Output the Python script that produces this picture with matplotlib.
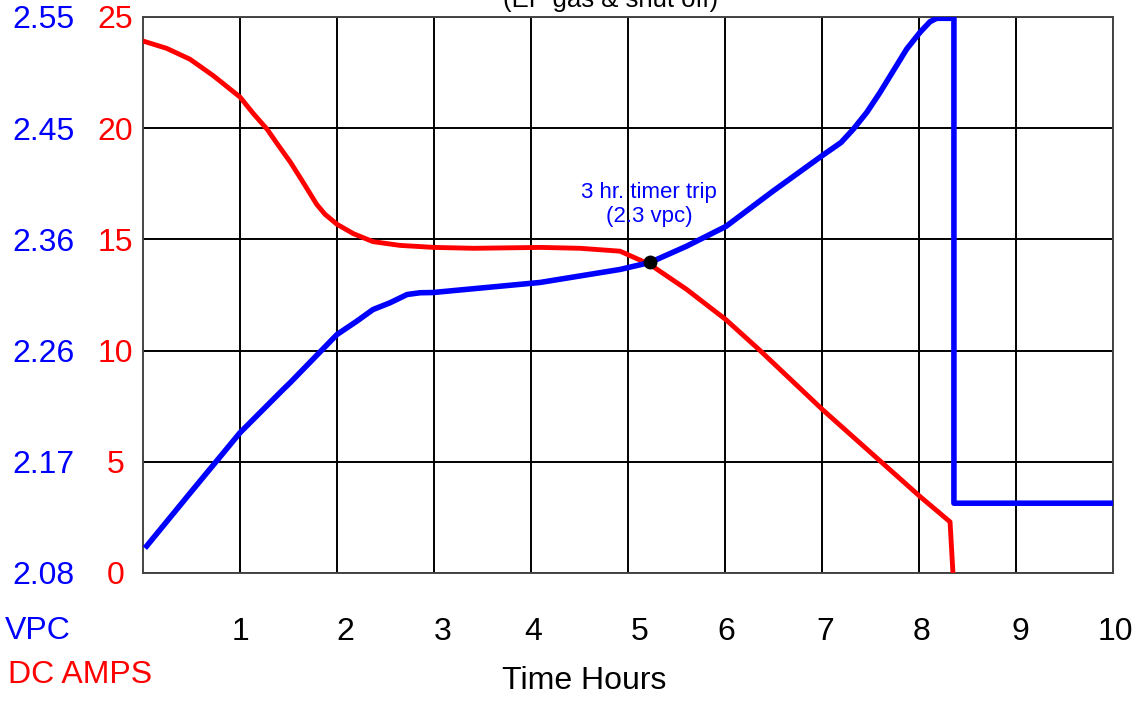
import matplotlib
matplotlib.use("Agg")
import matplotlib.pyplot as plt
import matplotlib.transforms as mtransforms
import numpy as np

plt.rcParams['font.family'] = ['Liberation Sans', 'DejaVu Sans']

# ---- data ----
amps_hours = [0.0, 0.244, 0.485, 0.725, 1.0, 1.137, 1.28, 1.395, 1.52, 1.653, 1.79, 1.876,
              2.0, 2.168, 2.37, 2.65, 3.0, 3.41, 4.1, 4.505, 4.918, 5.227, 5.605, 6.007,
              6.35, 7.007, 8.01, 8.32, 8.35]
amps_values = [23.92, 23.59, 23.1, 22.36, 21.4, 20.66, 19.95, 19.23, 18.47, 17.55, 16.58, 16.13,
               15.68, 15.26, 14.9, 14.73, 14.64, 14.6, 14.64, 14.6, 14.47, 13.87, 12.75, 11.4,
               10.05, 7.34, 3.44, 2.3, 0.0]

vpc_hours = [0.02, 0.485, 1.0, 1.443, 1.515, 2.0, 2.203, 2.371, 2.546, 2.722, 2.856, 2.99,
             4.093, 4.918, 5.227, 5.605, 6.01, 6.498, 7.007, 7.196, 7.323, 7.461,
             7.598, 7.735, 7.873, 8.01, 8.113, 8.182, 8.36, 8.36, 10.0]
vpc_values = [2.101, 2.1475, 2.1986, 2.235, 2.2407, 2.2816, 2.2928, 2.3027, 2.3084, 2.3154,
              2.3169, 2.3171, 2.3256, 2.3366, 2.3425, 2.3563, 2.373, 2.403, 2.4331,
              2.4439, 2.4552, 2.4693, 2.4862, 2.5045, 2.5229, 2.537, 2.546, 2.5489, 2.5489,
              2.139, 2.139]

trip_hour = 5.23
trip_vpc = 2.3425

hour_ticks = [1, 2, 3, 4, 5, 6, 7, 8, 9, 10]
amp_ticks = [0, 5, 10, 15, 20, 25]
vpc_labels = ['2.08', '2.17', '2.26', '2.36', '2.45', '2.55']

# per-label horizontal nudges (pixels) as in the original artwork
hour_label_nudge_px = [0, 8, 9, 2, 12, 1, 3, 3, 4, 2]

# ---- figure ----
fig = plt.figure(figsize=(11.45, 7.01), dpi=100)
ax = fig.add_axes([143/1145, (701-573)/701, (1113-143)/1145, (573-17)/701])

ax.set_xlim(0, 10)
ax.set_ylim(0, 25)
ax.set_xticks(hour_ticks)
ax.set_xticklabels([str(h) for h in hour_ticks])
ax.set_yticks(amp_ticks)
ax.set_yticklabels([str(a) for a in amp_ticks])
ax.grid(True, color='black', linewidth=1.4)
ax.set_axisbelow(True)
for s in ax.spines.values():
    s.set_color('#444444')
    s.set_linewidth(1.4)
ax.tick_params(axis='both', length=0, labelsize=23)
ax.tick_params(axis='x', pad=32, labelcolor='black')
ax.tick_params(axis='y', pad=20, labelcolor='red')
for lab in ax.get_yticklabels():
    lab.set_horizontalalignment('center')
for lab, dx in zip(ax.get_xticklabels(), hour_label_nudge_px):
    lab.set_transform(lab.get_transform() +
                      mtransforms.ScaledTranslation(dx / 100, 0, fig.dpi_scale_trans))

ax.plot(amps_hours, amps_values, color='red', linewidth=3.5,
        solid_joinstyle='round', solid_capstyle='butt', zorder=3)

ax2 = ax.twinx()
ax2.set_ylim(2.08, 2.55)
ax2.yaxis.tick_left()
ax2.set_yticks(np.linspace(2.08, 2.55, len(vpc_labels)))
ax2.set_yticklabels(vpc_labels)
ax2.tick_params(axis='y', length=0, labelsize=23, pad=72, labelcolor='blue')
for lab in ax2.get_yticklabels():
    lab.set_horizontalalignment('center')
for s in ax2.spines.values():
    s.set_visible(False)

ax2.plot(vpc_hours, vpc_values, color='blue', linewidth=4,
         solid_joinstyle='round', solid_capstyle='butt', zorder=3)
ax2.plot([trip_hour], [trip_vpc], 'o', color='black', markersize=9, zorder=5)

ax2.text(5.22, 2.3916, '3 hr. timer trip\n(2.3 vpc)', color='blue', fontsize=16,
         ha='center', va='center', linespacing=1.2)

fig.text(611/1145, (701-7)/701, '(EP gas & shut off)', ha='center', va='baseline',
         fontsize=18.5, color='black')
fig.text(584/1145, (701-681)/701, 'Time Hours', ha='center', va='center', fontsize=23)
fig.text(5/1145, (701-631)/701, 'VPC', ha='left', va='center', fontsize=23, color='blue')
fig.text(8/1145, (701-675)/701, 'DC AMPS', ha='left', va='center', fontsize=23, color='red')

fig.savefig('out.png', dpi=100)
